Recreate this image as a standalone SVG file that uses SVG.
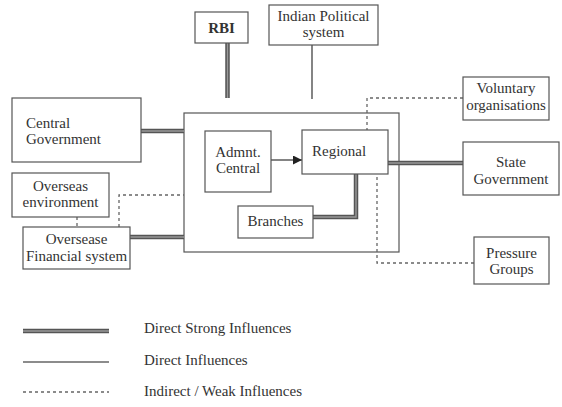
<svg xmlns="http://www.w3.org/2000/svg" width="562" height="407" viewBox="0 0 562 407">
  <style>
    .box { fill: #fff; stroke: #555; stroke-width: 1.2; }
    .lbl { font-family: "Liberation Serif", "Times New Roman", serif; font-size: 15px; fill: #333; }
    .mid { text-anchor: middle; }
    .strong-outer { fill: none; stroke: #555; stroke-width: 4.5; }
    .strong-inner { fill: none; stroke: #999; stroke-width: 1.4; }
    .direct { fill: none; stroke: #666; stroke-width: 1.6; }
    .weak { fill: none; stroke: #666; stroke-width: 1.3; stroke-dasharray: 3 3; }
  </style>
  <defs>
    <marker id="arrow" viewBox="0 0 10 10" refX="10" refY="5" markerWidth="9" markerHeight="9" markerUnits="userSpaceOnUse" orient="auto">
      <path d="M0,0 L10,5 L0,10 z" fill="#222"/>
    </marker>
  </defs>

  <rect width="562" height="407" fill="#fff"/>

  <!-- outer organisation frame -->
  <g id="organisation">
    <rect class="box" x="184" y="113" width="215" height="139"/>
  </g>

  <!-- connectors -->
  <g id="connectors">
    <!-- direct strong (double) -->
    <path class="strong-outer" d="M227.5,43 V98"/>
    <path class="strong-inner" d="M227.5,43 V98"/>
    <path class="strong-outer" d="M110,131 H184"/>
    <path class="strong-inner" d="M110,131 H184"/>
    <path class="strong-outer" d="M130,237 H184"/>
    <path class="strong-inner" d="M130,237 H184"/>
    <path class="strong-outer" d="M313,217 H356 V174"/>
    <path class="strong-inner" d="M313,217 H356 V174"/>
    <path class="strong-outer" d="M388,163 H463"/>
    <path class="strong-inner" d="M388,163 H463"/>
    <!-- direct -->
    <path class="direct" d="M312,45 V99"/>
    <path class="direct" d="M271,160 H302" marker-end="url(#arrow)"/>
    <!-- indirect / weak -->
    <path class="weak" d="M463,98 H367 V130"/>
    <path class="weak" d="M474,263 H377 V174"/>
    <path class="weak" d="M77,217 V227"/>
    <path class="weak" d="M119,227 V195 H184"/>
  </g>

  <g id="rbi">
    <rect class="box" x="195" y="12" width="53" height="31"/>
    <text class="lbl mid" x="221.5" y="33" font-weight="bold">RBI</text>
  </g>

  <g id="indian-political-system">
    <rect class="box" x="269" y="5" width="109" height="40"/>
    <text class="lbl mid" x="323.5" y="21">Indian Political</text>
    <text class="lbl mid" x="323.5" y="37">system</text>
  </g>

  <g id="central-government">
    <rect class="box" x="12" y="98" width="129" height="64"/>
    <text class="lbl" x="26" y="128">Central</text>
    <text class="lbl" x="26" y="144">Government</text>
  </g>

  <g id="overseas-environment">
    <rect class="box" x="12" y="173" width="97" height="44"/>
    <text class="lbl mid" x="60.5" y="191">Overseas</text>
    <text class="lbl mid" x="60.5" y="207">environment</text>
  </g>

  <g id="overseas-financial-system">
    <rect class="box" x="23" y="227" width="107" height="42"/>
    <text class="lbl mid" x="76.5" y="244">Oversease</text>
    <text class="lbl mid" x="76.5" y="261">Financial system</text>
  </g>

  <g id="admnt-central">
    <rect class="box" x="205" y="131" width="66" height="61"/>
    <text class="lbl mid" x="238" y="157">Admnt.</text>
    <text class="lbl mid" x="238" y="173">Central</text>
  </g>

  <g id="regional">
    <rect class="box" x="302" y="130" width="86" height="44"/>
    <text class="lbl" x="312" y="156">Regional</text>
  </g>

  <g id="branches">
    <rect class="box" x="238" y="206" width="75" height="32"/>
    <text class="lbl mid" x="275.5" y="226">Branches</text>
  </g>

  <g id="voluntary-organisations">
    <rect class="box" x="463" y="77" width="86" height="43"/>
    <text class="lbl mid" x="506" y="93">Voluntary</text>
    <text class="lbl mid" x="506" y="110">organisations</text>
  </g>

  <g id="state-government">
    <rect class="box" x="463" y="142" width="96" height="53"/>
    <text class="lbl mid" x="511" y="167">State</text>
    <text class="lbl mid" x="511" y="184">Government</text>
  </g>

  <g id="pressure-groups">
    <rect class="box" x="474" y="237" width="75" height="47"/>
    <text class="lbl mid" x="511.5" y="258">Pressure</text>
    <text class="lbl mid" x="511.5" y="274">Groups</text>
  </g>

  <!-- key -->
  <g id="legend">
    <path class="strong-outer" d="M23,331 H109"/>
    <path class="strong-inner" d="M23,331 H109"/>
    <path class="direct" d="M23,362 H109"/>
    <path class="weak" d="M23,392 H109"/>
    <text class="lbl" x="144" y="333">Direct Strong Influences</text>
    <text class="lbl" x="144" y="365">Direct Influences</text>
    <text class="lbl" x="144" y="396">Indirect / Weak Influences</text>
  </g>
</svg>
